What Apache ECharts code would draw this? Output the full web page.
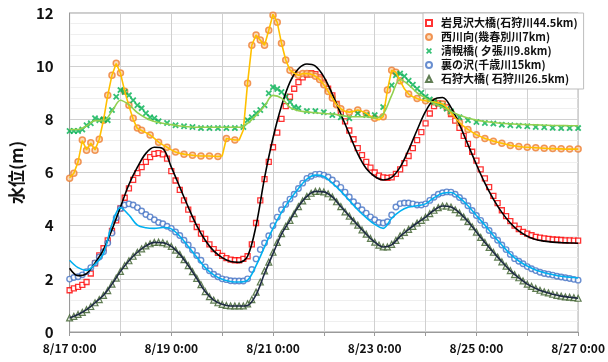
<!DOCTYPE html>
<html><head><meta charset="utf-8">
<script src="https://cdn.jsdelivr.net/npm/echarts@6/dist/echarts.min.js"></script>
<style>html,body{margin:0;padding:0;background:#fff}#c{width:608px;height:362px}</style>
</head><body><div id="c"></div>
<script>
// x tick labels, one per day (every second day labelled)
const xTickLabels = ['8/17 0:00','','8/19 0:00','','8/21 0:00','','8/23 0:00','','8/25 0:00','','8/27 0:00'];
const seriesNames = ['岩見沢大橋(石狩川44.5km)','西川向(幾春別川7km)','清幌橋( 夕張川9.8km)','裏の沢(千歳川15km)','石狩大橋( 石狩川26.5km)'];
const obsStepHours = 2;   // observed values every 2 h from 8/17 0:00
const simStepHours = 4;   // computed lines every 4 h
const yellowStepHours = 2;

// 岩見沢大橋 observed
const iwamizawaObs = [1.57,1.64,1.70,1.77,1.88,2.2,2.58,2.88,3.15,3.45,
3.8,4.2,4.65,5.05,5.4,5.72,5.98,6.2,6.4,6.58,
6.7,6.73,6.68,6.52,6.05,5.7,5.35,4.95,4.6,4.25,
3.95,3.7,3.5,3.3,3.12,2.98,2.86,2.78,2.72,2.7,
2.7,2.75,2.85,3.3,4.1,4.95,5.75,6.4,6.95,7.5,
8.02,8.5,8.85,9.15,9.4,9.58,9.68,9.74,9.7,9.58,
9.38,9.15,8.9,8.58,8.25,7.92,7.58,7.25,6.92,6.65,
6.4,6.18,6.0,5.88,5.82,5.8,5.82,5.95,6.12,6.35,
6.62,6.92,7.22,7.52,7.85,8.22,8.5,8.6,8.58,8.45,
8.2,7.95,7.68,7.38,7.08,6.78,6.45,6.12,5.78,5.45,
5.12,4.85,4.58,4.36,4.17,4.0,3.87,3.77,3.7,3.64,
3.58,3.55,3.52,3.5,3.48,3.47,3.46,3.45,3.45,3.44,
3.44];
// 岩見沢大橋 computed
const iwamizawaSim = [2.4,2.12,2.2,2.6,3.1,3.85,4.7,5.55,6.2,6.72,
6.95,6.9,6.2,5.45,4.7,4.0,3.45,3.05,2.8,2.65,
2.62,2.85,4.0,5.8,7.3,8.5,9.4,9.9,10.08,10.0,
9.6,8.95,8.2,7.45,6.7,6.15,5.85,5.72,5.82,6.2,
6.85,7.6,8.3,8.75,8.82,8.45,7.8,7.05,6.3,5.6,
5.0,4.5,4.1,3.8,3.6,3.48,3.42,3.38,3.36,3.35,
3.34];
// 西川向 observed
const nishikawaObs = [5.78,5.97,6.4,7.22,6.84,7.12,6.84,7.25,7.97,8.91,
9.66,10.11,9.74,9.06,8.53,8.04,7.67,7.59,null,7.41,
null,7.14,null,6.95,null,6.77,null,6.69,null,6.65,
null,6.62,null,6.62,null,6.6,null,7.28,null,7.22,
null,null,9.36,10.79,11.17,10.98,10.79,11.35,11.92,11.65,
10.86,10.23,9.85,9.74,9.66,9.72,9.72,9.7,9.62,9.5,
9.3,9.05,8.8,8.55,8.4,null,8.27,null,8.35,null,
8.23,null,8.04,null,8.1,9.1,9.85,9.77,9.45,null,
8.95,null,8.78,null,8.7,null,8.65,null,8.58,null,
8.25,null,7.88,null,7.62,null,7.42,null,7.28,null,
7.18,null,7.1,null,7.02,null,6.98,null,6.95,null,
6.93,null,6.91,null,6.9,null,6.89,null,6.88,null,
6.88];
// 西川向 computed
const nishikawaSim = [5.8,5.97,6.4,7.2,6.85,7.1,6.85,7.25,7.97,8.9,
9.66,10.1,9.74,9.06,8.5,8.0,7.65,7.58,7.5,7.41,
7.28,7.14,7.04,6.95,6.85,6.77,6.72,6.69,6.67,6.65,
6.63,6.62,6.62,6.62,6.61,6.6,6.62,7.28,7.25,7.22,
7.22,7.6,9.36,10.79,11.17,10.98,10.79,11.35,11.95,11.65,
10.86,10.23,9.85,9.74,9.66,9.72,9.72,9.7,9.62,9.5,
9.3,9.05,8.8,8.55,8.4,8.3,8.27,8.3,8.35,8.3,
8.23,8.12,8.04,7.98,8.1,9.1,9.85,9.77,9.45,9.15,
8.95,8.85,8.78,8.73,8.7,8.67,8.65,8.62,8.58,8.45,
8.25,8.05,7.88,7.74,7.62,7.52,7.42,7.35,7.28,7.23,
7.18,7.14,7.1,7.06,7.02,7.0,6.98,6.96,6.95,6.94,
6.93,6.92,6.91,6.9,6.9,6.89,6.89,6.88,6.88,6.88,
6.88];
// 清幌橋 observed
const seihoroObs = [7.56,7.56,7.56,7.62,7.78,7.85,8.04,7.97,8.0,7.97,
8.35,8.85,9.1,9.03,8.91,8.72,8.53,8.42,8.23,8.08,
8.04,7.93,null,7.86,null,7.78,null,7.74,null,7.71,
null,7.67,null,7.67,null,7.67,null,7.67,null,7.67,
null,7.71,7.97,8.08,8.23,8.35,8.53,8.98,9.21,9.14,
9.03,8.85,8.65,8.46,8.42,null,8.31,null,8.31,null,
8.27,null,8.16,null,8.08,null,8.04,null,8.23,null,
8.16,null,8.16,null,8.46,null,9.28,9.66,9.72,9.62,
9.45,9.3,9.15,9.0,8.85,8.75,8.65,8.58,8.5,8.4,
8.3,null,8.08,null,7.97,null,7.9,null,7.86,null,
7.84,null,7.8,null,7.78,null,7.76,null,7.74,null,
7.71,null,7.7,null,7.68,null,7.67,null,7.67,null,
7.67];
// 清幌橋 computed
const seihoroSim = [7.62,7.62,7.75,7.95,7.95,8.3,8.72,8.55,8.25,8.05,
7.92,7.85,7.8,7.75,7.72,7.7,7.7,7.7,7.7,7.7,
7.7,7.85,8.15,8.5,8.9,8.8,8.45,8.32,8.28,8.25,
8.22,8.2,8.15,8.1,8.1,8.1,8.05,8.2,8.9,9.5,
9.3,9.0,8.8,8.6,8.45,8.3,8.15,8.05,7.97,7.92,
7.88,7.85,7.83,7.81,7.8,7.79,7.78,7.77,7.77,7.76,
7.76];
// 裏の沢 observed
const uranosawaObs = [1.99,2.05,2.08,2.15,2.27,2.42,2.6,2.82,3.02,3.35,
3.72,4.3,4.65,4.78,4.82,4.78,4.68,4.55,4.42,4.33,
4.22,4.12,4.07,3.98,3.9,3.76,3.63,3.45,3.27,3.08,
2.88,2.7,2.45,2.3,2.17,2.08,2.0,1.97,1.93,1.92,
1.92,1.92,2.0,2.35,2.75,3.1,3.35,3.62,4.0,4.32,
4.6,4.8,5.0,5.18,5.4,5.6,5.78,5.86,5.93,5.94,
5.9,5.83,5.72,5.58,5.44,5.26,5.08,4.9,4.75,4.6,
4.47,4.33,4.22,4.12,4.1,4.15,4.4,4.7,4.83,4.85,
4.85,4.82,4.78,4.78,4.82,4.95,5.07,5.18,5.24,5.27,
5.26,5.18,5.06,4.93,4.75,4.57,4.38,4.2,4.02,3.82,
3.63,3.45,3.27,3.1,2.92,2.76,2.66,2.57,2.46,2.38,
2.31,2.25,2.2,2.17,2.14,2.1,2.07,2.04,2.01,1.98,
1.95];
// 裏の沢 computed
const uranosawaSim = [2.7,2.42,2.32,2.55,2.95,4.05,4.68,4.4,4.02,3.92,
3.9,3.93,3.88,3.6,3.22,2.82,2.42,2.15,1.98,1.9,
1.88,1.95,2.5,3.2,3.9,4.5,4.98,5.4,5.75,5.9,
5.85,5.6,5.3,4.95,4.6,4.3,4.05,3.9,4.28,4.55,
4.7,4.75,4.82,5.05,5.22,5.25,5.05,4.75,4.38,4.02,
3.63,3.27,2.93,2.67,2.48,2.33,2.23,2.16,2.1,2.06,
2.03];
// 石狩大橋 observed
const ishikariObs = [0.53,0.59,0.66,0.74,0.84,0.96,1.1,1.22,1.38,1.56,
1.8,2.03,2.28,2.5,2.68,2.85,3.0,3.13,3.24,3.32,
3.37,3.38,3.36,3.31,3.22,3.08,2.92,2.72,2.5,2.27,
2.02,1.78,1.52,1.33,1.2,1.1,1.04,1.0,0.98,0.98,
0.98,0.98,1.06,1.22,1.5,1.88,2.3,2.63,3.0,3.37,
3.7,3.97,4.2,4.45,4.72,4.93,5.1,5.22,5.29,5.3,
5.27,5.2,5.08,4.9,4.72,4.52,4.36,4.18,4.02,3.84,
3.68,3.52,3.38,3.27,3.2,3.2,3.3,3.45,3.62,3.75,
3.86,3.97,4.1,4.2,4.32,4.45,4.58,4.68,4.74,4.74,
4.7,4.6,4.48,4.33,4.16,3.96,3.76,3.56,3.37,3.18,
3.0,2.82,2.64,2.48,2.31,2.16,2.04,1.92,1.8,1.72,
1.64,1.57,1.51,1.47,1.42,1.38,1.35,1.32,1.31,1.29,
1.27];
// 石狩大橋 computed
const ishikariSim = [0.53,0.66,0.84,1.1,1.38,1.8,2.28,2.68,3.0,3.24,
3.37,3.36,3.22,2.92,2.5,2.02,1.52,1.2,1.04,0.98,
0.98,1.0,1.4,2.2,2.95,3.68,4.2,4.72,5.1,5.29,
5.27,5.08,4.72,4.36,4.02,3.68,3.38,3.2,3.28,3.6,
3.86,4.1,4.32,4.58,4.74,4.7,4.48,4.16,3.76,3.37,
3.0,2.64,2.31,2.04,1.8,1.64,1.51,1.42,1.35,1.31,
1.27];

const toPts = (arr, step) => arr.map((v, i) => [i * step, v]).filter(p => p[1] !== null);
const FONT = '"Noto Sans CJK JP","Noto Sans",sans-serif';

function obsSeries(name, data, symbol, size, itemStyle) {
  return { name, type: 'scatter', data: toPts(data, obsStepHours), symbol, symbolSize: size,
    itemStyle, z: 2, emphasis: { disabled: true }, animation: false };
}
function simSeries(data, step, color, smooth) {
  return { type: 'line', data: toPts(data, step), showSymbol: false, symbol: 'none',
    smooth, lineStyle: { color, width: 1.6 }, z: 3, silent: true, animation: false };
}
const xPath = 'path://M2,0 L5,3 L8,0 L10,2 L7,5 L10,8 L8,10 L5,7 L2,10 L0,8 L3,5 L0,2 Z';

const chart = echarts.init(document.getElementById('c'), null, { renderer: 'canvas' });
chart.setOption({
  animation: false,
  backgroundColor: '#fff',
  grid: { left: 61, right: 29, top: 13, bottom: 30, show: true, borderColor: '#9a9a9a', borderWidth: 1 },
  xAxis: {
    type: 'value', min: 0, max: 240, interval: 24,
    axisLine: { show: true, lineStyle: { color: '#9a9a9a' } },
    axisTick: { show: true, length: 4, lineStyle: { color: '#9a9a9a' } },
    splitLine: { show: true, lineStyle: { color: '#d0d0d0', width: 1 } },
    axisLabel: { formatter: v => xTickLabels[Math.round(v / 24)] || '', color: '#111', fontWeight: 'bold',
      fontSize: 12, fontFamily: FONT, margin: 10 }
  },
  yAxis: {
    type: 'value', min: 0, max: 12, interval: 2,
    name: '水位(m)', nameLocation: 'middle', nameRotate: 90, nameGap: 37,
    nameTextStyle: { fontSize: 17, fontWeight: 'bold', color: '#111', fontFamily: FONT },
    axisLine: { show: true, lineStyle: { color: '#9a9a9a' } },
    axisTick: { show: false },
    splitLine: { show: true, lineStyle: { color: '#d0d0d0', width: 1 } },
    minorTick: { show: false, splitNumber: 5 },
    minorSplitLine: { show: true, lineStyle: { color: '#efefef', width: 1 } },
    axisLabel: { color: '#111', fontWeight: 'bold', fontSize: 15, fontFamily: FONT, margin: 16 }
  },
  legend: {
    data: seriesNames, orient: 'vertical', left: 423, top: 13,
    backgroundColor: '#fff', borderColor: '#bdbdbd', borderWidth: 1,
    padding: [3, 6, 3, 2], itemGap: 0, itemWidth: 6, itemHeight: 6,
    textStyle: { fontSize: 11, fontWeight: 'bold', color: '#111', fontFamily: FONT, lineHeight: 14, padding: [0, 0, 0, 4] },
    selectedMode: false
  },
  series: [
    obsSeries(seriesNames[0], iwamizawaObs, 'rect', 5, { color: '#fff', borderColor: '#ff0000', borderWidth: 1.3 }),
    obsSeries(seriesNames[1], nishikawaObs, 'circle', 6, { color: '#fbd3a9', borderColor: '#ed7d31', borderWidth: 1.5 }),
    obsSeries(seriesNames[2], seihoroObs, xPath, 6.5, { color: '#00b050' }),
    obsSeries(seriesNames[3], uranosawaObs, 'circle', 5.5, { color: '#fff', borderColor: '#4472c4', borderWidth: 1.4 }),
    obsSeries(seriesNames[4], ishikariObs, 'triangle', 6, { color: '#e6ede1', borderColor: '#3b5e2b', borderWidth: 1.2 }),
    simSeries(iwamizawaSim, simStepHours, '#000000', 0.35),
    simSeries(nishikawaSim, yellowStepHours, '#ffc000', false),
    simSeries(seihoroSim, simStepHours, '#92d050', 0.35),
    simSeries(uranosawaSim, simStepHours, '#00b0f0', 0.35),
    simSeries(ishikariSim, simStepHours, '#1f2a44', 0.35)
  ]
});
</script>
</body></html>
